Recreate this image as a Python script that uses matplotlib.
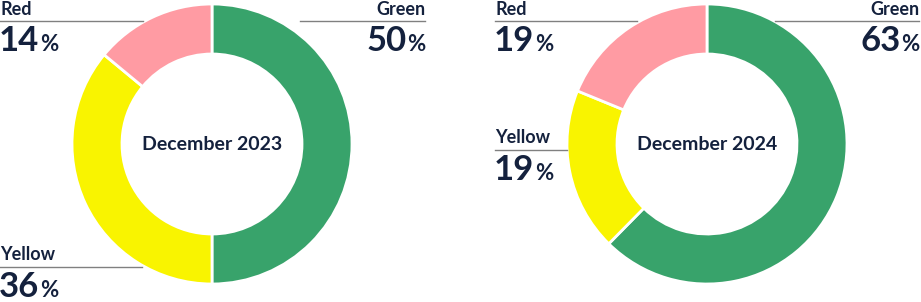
#!/usr/bin/env python3

import matplotlib
matplotlib.use('Agg')
import matplotlib.pyplot as plt

# data
categories = ['Green', 'Yellow', 'Red']
values_2023 = [50, 36, 14]
values_2024 = [63, 19, 19]
titles = ['December 2023', 'December 2024']
colors = ['#38a36b', '#f9f400', '#ff9ba3']

TEXT = '#14213d'
LINE = '#808080'
W, H = 921, 302

plt.rcParams['font.family'] = ['Lato', 'DejaVu Sans']

fig = plt.figure(figsize=(W / 100, H / 100), dpi=100)
ax = fig.add_axes([0, 0, 1, 1])


def Y(y):
    # pixel row -> data y (axes has y going up)
    return H - y


def donut(cx, cy, values, title):
    ax.pie(values, colors=colors, startangle=90, counterclock=False,
           center=(cx, Y(cy)), radius=140,
           wedgeprops=dict(width=50, edgecolor='white', linewidth=2))
    ax.text(cx, Y(cy), title, ha='center', va='center', fontsize=14,
            fontweight='bold', color=TEXT)


def label(x, y_label, y_line, line_len, name, value, align='left'):
    renderer = fig.canvas.get_renderer()
    ax.text(x, Y(y_label), name, ha=align, va='baseline', fontsize=13,
            fontweight='bold', color=TEXT)
    x0, x1 = (x, x + line_len) if align == 'left' else (x - line_len, x)
    ax.plot([x0, x1], [Y(y_line), Y(y_line)], color=LINE, lw=1)
    yb = Y(y_line + 30)
    if align == 'left':
        t = ax.text(x - 1, yb, str(value), ha='left', va='baseline', fontsize=25,
                    fontweight='bold', color=TEXT)
        bb = t.get_window_extent(renderer)
        ax.text(bb.x1 + 0.5, yb, '%', ha='left', va='baseline', fontsize=16,
                fontweight='bold', color=TEXT)
    else:
        p = ax.text(x, yb, '%', ha='right', va='baseline', fontsize=16,
                    fontweight='bold', color=TEXT)
        bb = p.get_window_extent(renderer)
        ax.text(bb.x0 - 0.5, yb, str(value), ha='right', va='baseline', fontsize=25,
                fontweight='bold', color=TEXT)


donut(212, 144, values_2023, titles[0])
donut(707, 144, values_2024, titles[1])

ax.set_xlim(0, W)
ax.set_ylim(0, H)
ax.set_aspect('equal')
ax.axis('off')

# left chart labels
label(0, 15, 21, 143, categories[2], values_2023[2])
label(425, 15, 21, 125, categories[0], values_2023[0], align='right')
label(0, 260, 267, 142, categories[1], values_2023[1])

# right chart labels
label(495, 15, 21, 142, categories[2], values_2024[2])
label(919, 15, 21, 144, categories[0], values_2024[0], align='right')
label(495, 143, 150, 72, categories[1], values_2024[1])

plt.savefig('out.png', dpi=100)
plt.close()
